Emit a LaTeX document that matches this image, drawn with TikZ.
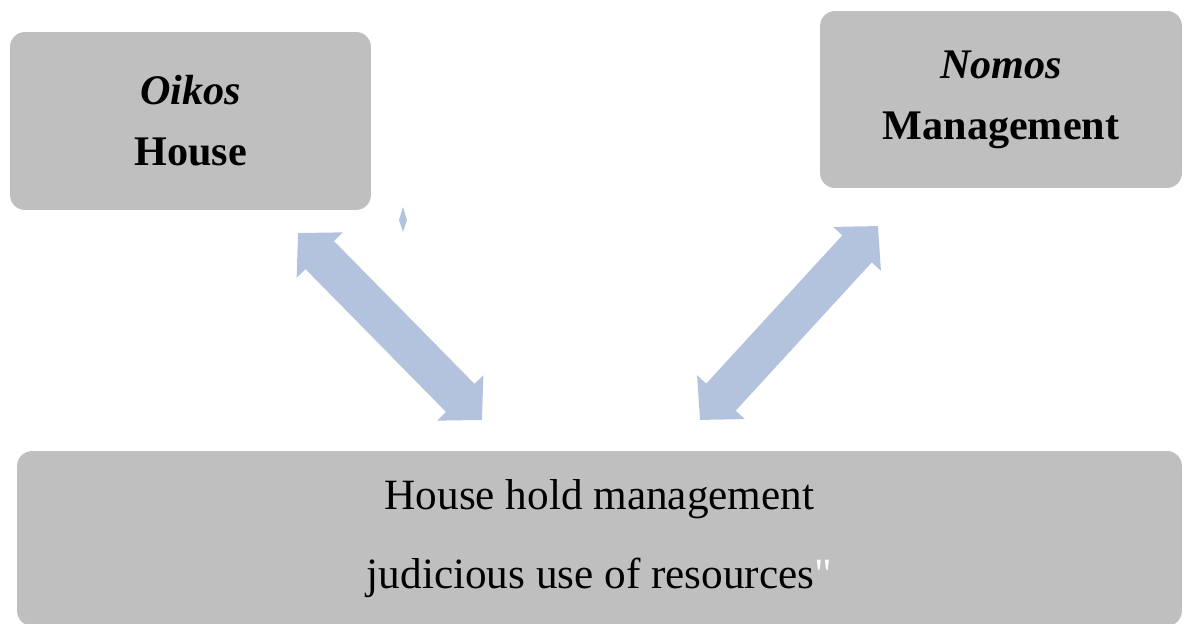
\documentclass[tikz,border=0pt]{standalone}
\usepackage{fontspec}
\setmainfont{Liberation Serif}
\newfontfamily\plainquote{Liberation Serif}[Ligatures=TeXOff]
\usetikzlibrary{positioning,arrows.meta}
\definecolor{boxgray}{HTML}{BFBFBF}
\definecolor{arrowblue}{HTML}{B3C3DE}

\begin{document}
\begin{tikzpicture}[x=0.02cm, y=-0.02cm,
  box/.style={fill=boxgray, rounded corners=0.3cm, align=center, inner sep=0pt},
  dblarrow/.style={draw=arrowblue, line width=0.8cm, {Triangle[width=1.26cm, length=0.62cm]}-{Triangle[width=1.26cm, length=0.62cm]}}]
\useasboundingbox (0,0) rectangle (1189,624);
\node[box, minimum width=7.22cm, minimum height=3.56cm, font=\fontsize{24}{34.6}\selectfont] (oikos) at (190.5,121) {\textbf{\textit{Oikos}}\\\textbf{House}};
\node[box, minimum width=7.24cm, minimum height=3.54cm, font=\fontsize{24}{34.6}\selectfont] (nomos) at (1001,99.5) {\textbf{\textit{Nomos}}\\\textbf{Management}};
\node[box, minimum width=23.3cm, minimum height=3.5cm, font=\fontsize{24.6}{45.4}\selectfont] (household) at (599.5,538.5) {House hold management\\judicious use of resources{\color{white}\plainquote"}};
% ends of the two arrows
\coordinate (a1) at (298,233);
\coordinate (a2) at (482,420);
\coordinate (b1) at (700,420);
\coordinate (b2) at (878,226);
\draw[dblarrow] (a1) -- (a2);
\draw[dblarrow] (b1) -- (b2);
\fill[arrowblue] (403,207) -- (407,220) -- (403,232) -- (399,220) -- cycle;
\end{tikzpicture}
\end{document}
